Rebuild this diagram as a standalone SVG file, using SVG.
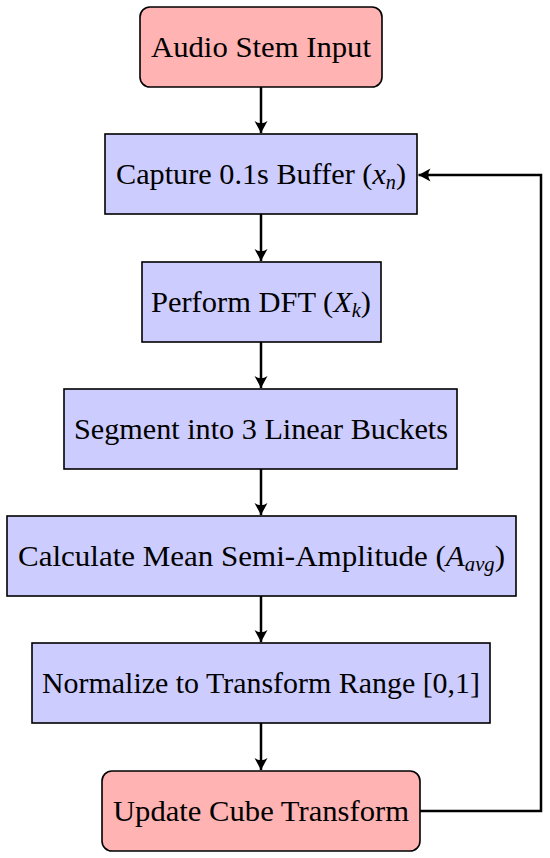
<svg xmlns="http://www.w3.org/2000/svg" width="550" height="858" viewBox="0 0 550 858">
<defs>
<marker id="arr" viewBox="-13 -7 15 14" markerWidth="15" markerHeight="14" refX="0" refY="0" orient="auto" markerUnits="userSpaceOnUse">
<path d="M0,0 L-12,-6.5 Q-7.5,0 -12,6.5 Z" fill="#000"/>
</marker>
<style>
.term{fill:#ffb3b3;stroke:#000;stroke-width:1.6}
.proc{fill:#ccccff;stroke:#000;stroke-width:1.6}
.lbl{font-family:"Liberation Serif","Times New Roman",serif;font-size:30px;fill:#000;text-anchor:middle}
.it{font-style:italic}
.sub{font-style:italic;font-size:20px}
.conn{fill:none;stroke:#000;stroke-width:2.5;marker-end:url(#arr)}
</style>
</defs>
<rect width="550" height="858" fill="#fff"/>
<g id="connectors">
<path class="conn" d="M261,87 V133"/>
<path class="conn" d="M261,214 V261"/>
<path class="conn" d="M261,342 V388"/>
<path class="conn" d="M261,469 V515"/>
<path class="conn" d="M261,596 V642"/>
<path class="conn" d="M261,723 V770"/>
<path class="conn" d="M420,811 H541 V175 H418.5"/>
</g>
<g id="n1">
<rect class="term" x="140" y="7" width="242" height="80" rx="10"/>
<text class="lbl" x="261" y="57" textLength="220" lengthAdjust="spacingAndGlyphs">Audio Stem Input</text>
</g>
<g id="n2">
<rect class="proc" x="105" y="134" width="312" height="80"/>
<text class="lbl" x="261" y="184" textLength="290" lengthAdjust="spacingAndGlyphs">Capture 0.1s Buffer (<tspan class="it">x</tspan><tspan class="sub" dy="5">n</tspan><tspan dy="-5">)</tspan></text>
</g>
<g id="n3">
<rect class="proc" x="142" y="262" width="239" height="80"/>
<text class="lbl" x="261" y="312" textLength="220" lengthAdjust="spacingAndGlyphs">Perform DFT (<tspan class="it">X</tspan><tspan class="sub" dy="5">k</tspan><tspan dy="-5">)</tspan></text>
</g>
<g id="n4">
<rect class="proc" x="64" y="389" width="393" height="80"/>
<text class="lbl" x="261" y="439" textLength="374" lengthAdjust="spacingAndGlyphs">Segment into 3 Linear Buckets</text>
</g>
<g id="n5">
<rect class="proc" x="7" y="516" width="509" height="80"/>
<text class="lbl" x="261.5" y="566" textLength="487" lengthAdjust="spacingAndGlyphs">Calculate Mean Semi-Amplitude (<tspan class="it">A</tspan><tspan class="sub" dy="5">avg</tspan><tspan dy="-5">)</tspan></text>
</g>
<g id="n6">
<rect class="proc" x="32" y="643" width="458" height="80"/>
<text class="lbl" x="261" y="693" textLength="438" lengthAdjust="spacingAndGlyphs">Normalize to Transform Range [0,1]</text>
</g>
<g id="n7">
<rect class="term" x="102" y="771" width="318" height="80" rx="10"/>
<text class="lbl" x="261" y="821" textLength="296" lengthAdjust="spacingAndGlyphs">Update Cube Transform</text>
</g>
</svg>
